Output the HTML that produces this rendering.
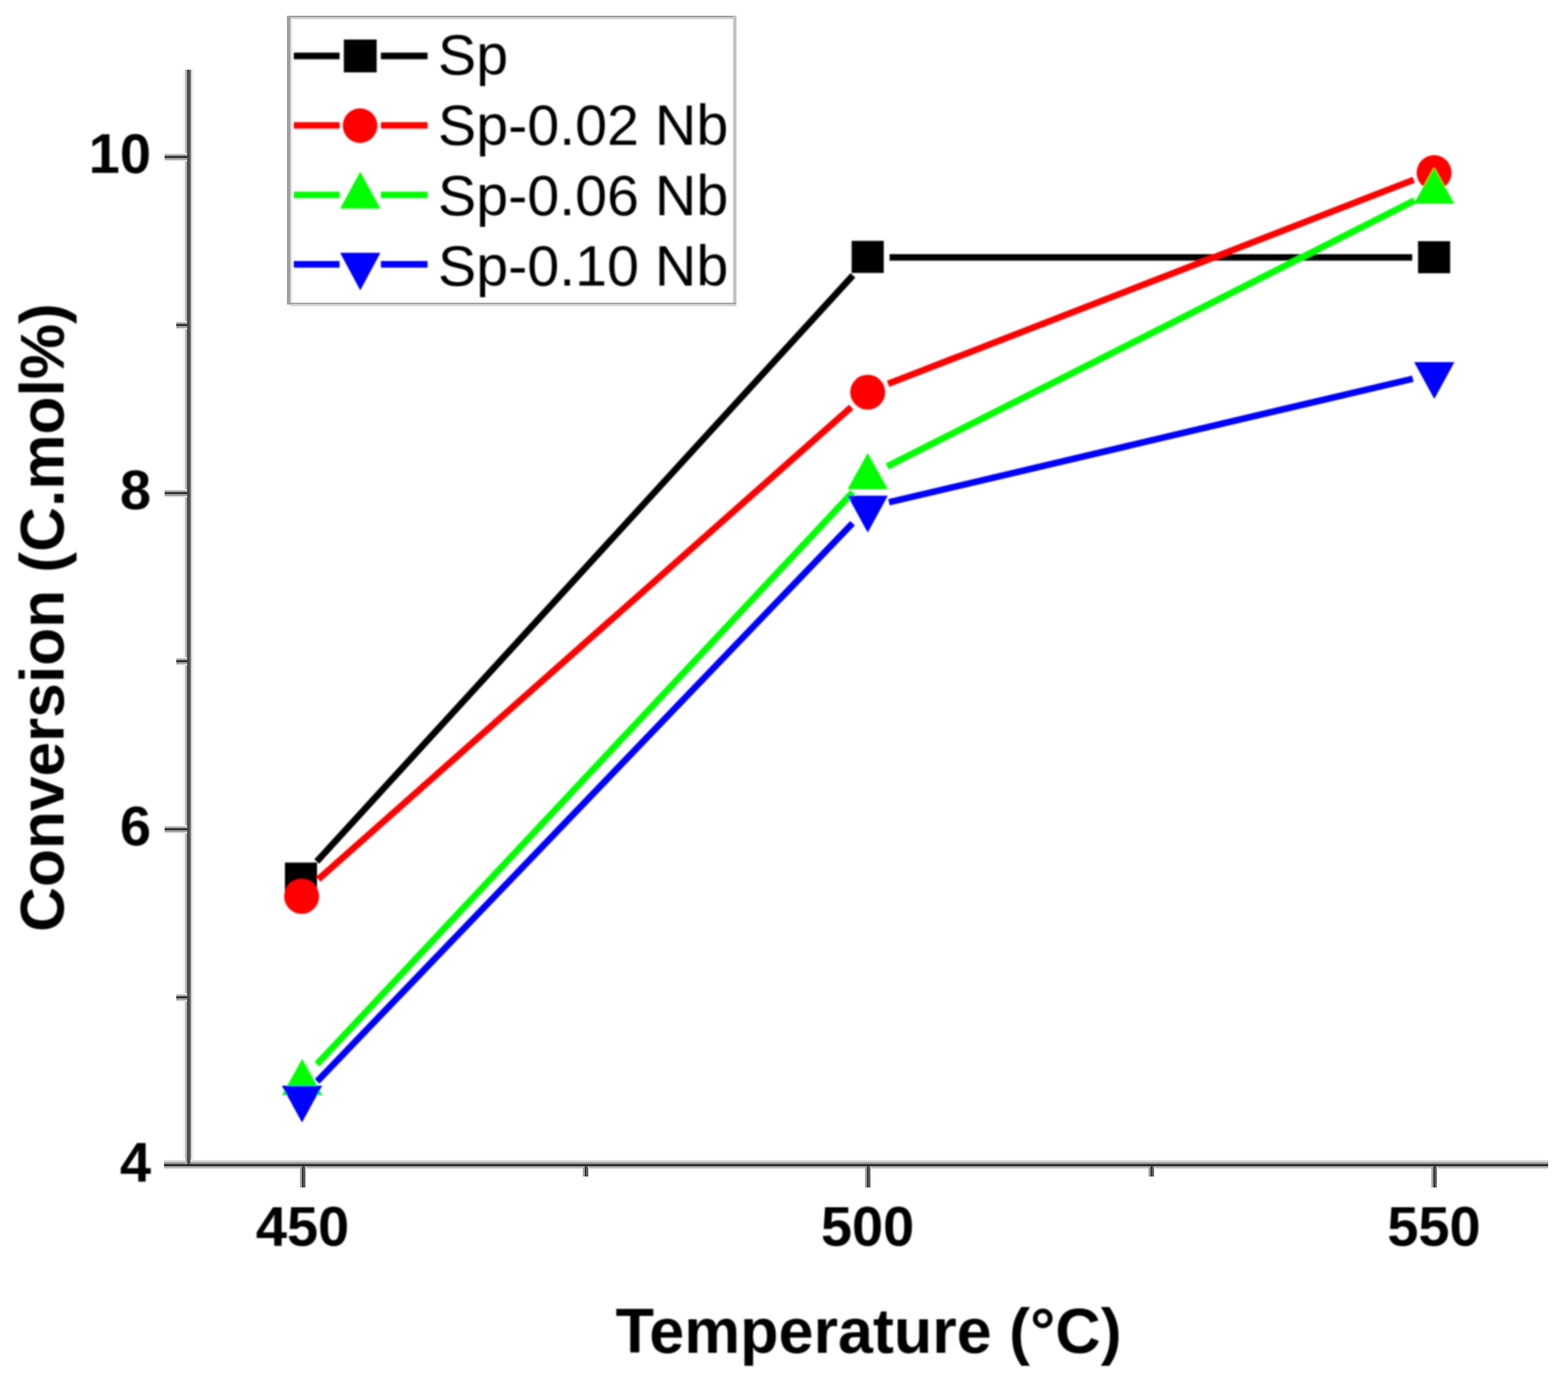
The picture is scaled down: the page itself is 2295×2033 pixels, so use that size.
<!DOCTYPE html>
<html><head><meta charset="utf-8"><title>Conversion vs Temperature</title>
<style>
html,body{margin:0;padding:0;background:#fff;overflow:hidden;}
svg{display:block;}
text{font-family:"Liberation Sans",Arial,sans-serif;fill:#000;}
.lg{font-size:84px;font-weight:normal;}
.tk{font-size:82px;font-weight:bold;}
.tt{font-size:92px;font-weight:bold;}
</style></head><body>
<svg width="2295" height="2033" viewBox="0 0 2295 2033">
<rect x="0" y="0" width="2295" height="2033" fill="#fff"/>
<defs><filter id="soft" x="-2%" y="-2%" width="104%" height="104%"><feGaussianBlur stdDeviation="0.8"/></filter></defs>
<rect x="240" y="1697" width="2026" height="1" fill="#fafafa"/>
<rect x="240" y="1698" width="2026" height="1" fill="#e0e0e0"/>
<rect x="240" y="1699" width="2026" height="1" fill="#d5d5d5"/>
<rect x="240" y="1700" width="2026" height="1" fill="#d5d5d5"/>
<rect x="240" y="1701" width="2026" height="1" fill="#a0a0a0"/>
<rect x="240" y="1702" width="2026" height="1" fill="#939393"/>
<rect x="240" y="1703" width="2026" height="1" fill="#8a8a8a"/>
<rect x="240" y="1704" width="2026" height="1" fill="#262626"/>
<rect x="240" y="1705" width="2026" height="1" fill="#2a2a2a"/>
<rect x="240" y="1706" width="2026" height="1" fill="#3a3a3a"/>
<rect x="240" y="1707" width="2026" height="1" fill="#b5b5b5"/>
<rect x="240" y="1708" width="2026" height="1" fill="#b0b0b0"/>
<rect x="240" y="1709" width="2026" height="1" fill="#c0c0c0"/>
<rect x="240" y="1710" width="2026" height="1" fill="#eeeeee"/>
<rect x="240" y="1711" width="2026" height="1" fill="#f4f4f4"/>
<rect x="268" y="102" width="1" height="1595" fill="#f5f5f5"/>
<rect x="269" y="102" width="1" height="1595" fill="#f3f3f3"/>
<rect x="270" y="102" width="1" height="1595" fill="#f0f0f0"/>
<rect x="271" y="102" width="1" height="1602" fill="#b5b5b5"/>
<rect x="272" y="102" width="1" height="1602" fill="#b2b2b2"/>
<rect x="273" y="102" width="1" height="1602" fill="#a8a8a8"/>
<rect x="274" y="102" width="1" height="1602" fill="#3d3d3d"/>
<rect x="275" y="102" width="1" height="1602" fill="#454545"/>
<rect x="276" y="102" width="1" height="1602" fill="#505050"/>
<rect x="277" y="102" width="1" height="1602" fill="#5a5a5a"/>
<rect x="278" y="102" width="1" height="1602" fill="#6a6a6a"/>
<rect x="279" y="102" width="1" height="1595" fill="#a0a0a0"/>
<rect x="280" y="102" width="1" height="1595" fill="#e5e5e5"/>
<rect x="281" y="102" width="1" height="1595" fill="#e8e8e8"/>
<rect x="282" y="102" width="1" height="1595" fill="#f2f2f2"/>
<rect x="241" y="224" width="33" height="1" fill="#eeeeee"/>
<rect x="241" y="225" width="33" height="1" fill="#e0e0e0"/>
<rect x="241" y="226" width="33" height="1" fill="#aaaaaa"/>
<rect x="241" y="227" width="33" height="1" fill="#a5a5a5"/>
<rect x="241" y="228" width="33" height="1" fill="#555555"/>
<rect x="241" y="229" width="33" height="1" fill="#2a2a2a"/>
<rect x="241" y="230" width="33" height="1" fill="#2a2a2a"/>
<rect x="241" y="231" width="33" height="1" fill="#999999"/>
<rect x="241" y="232" width="33" height="1" fill="#9a9a9a"/>
<rect x="241" y="233" width="33" height="1" fill="#aaaaaa"/>
<rect x="241" y="234" width="33" height="1" fill="#dddddd"/>
<rect x="241" y="235" width="33" height="1" fill="#e6e6e6"/>
<rect x="241" y="716" width="33" height="1" fill="#eeeeee"/>
<rect x="241" y="717" width="33" height="1" fill="#e0e0e0"/>
<rect x="241" y="718" width="33" height="1" fill="#aaaaaa"/>
<rect x="241" y="719" width="33" height="1" fill="#a5a5a5"/>
<rect x="241" y="720" width="33" height="1" fill="#555555"/>
<rect x="241" y="721" width="33" height="1" fill="#2a2a2a"/>
<rect x="241" y="722" width="33" height="1" fill="#2a2a2a"/>
<rect x="241" y="723" width="33" height="1" fill="#999999"/>
<rect x="241" y="724" width="33" height="1" fill="#9a9a9a"/>
<rect x="241" y="725" width="33" height="1" fill="#aaaaaa"/>
<rect x="241" y="726" width="33" height="1" fill="#dddddd"/>
<rect x="241" y="727" width="33" height="1" fill="#e6e6e6"/>
<rect x="241" y="1208" width="33" height="1" fill="#eeeeee"/>
<rect x="241" y="1209" width="33" height="1" fill="#e0e0e0"/>
<rect x="241" y="1210" width="33" height="1" fill="#aaaaaa"/>
<rect x="241" y="1211" width="33" height="1" fill="#a5a5a5"/>
<rect x="241" y="1212" width="33" height="1" fill="#555555"/>
<rect x="241" y="1213" width="33" height="1" fill="#2a2a2a"/>
<rect x="241" y="1214" width="33" height="1" fill="#2a2a2a"/>
<rect x="241" y="1215" width="33" height="1" fill="#999999"/>
<rect x="241" y="1216" width="33" height="1" fill="#9a9a9a"/>
<rect x="241" y="1217" width="33" height="1" fill="#aaaaaa"/>
<rect x="241" y="1218" width="33" height="1" fill="#dddddd"/>
<rect x="241" y="1219" width="33" height="1" fill="#e6e6e6"/>
<rect x="258" y="470" width="16" height="1" fill="#eeeeee"/>
<rect x="258" y="471" width="16" height="1" fill="#e0e0e0"/>
<rect x="258" y="472" width="16" height="1" fill="#aaaaaa"/>
<rect x="258" y="473" width="16" height="1" fill="#a5a5a5"/>
<rect x="258" y="474" width="16" height="1" fill="#555555"/>
<rect x="258" y="475" width="16" height="1" fill="#2a2a2a"/>
<rect x="258" y="476" width="16" height="1" fill="#2a2a2a"/>
<rect x="258" y="477" width="16" height="1" fill="#999999"/>
<rect x="258" y="478" width="16" height="1" fill="#9a9a9a"/>
<rect x="258" y="479" width="16" height="1" fill="#aaaaaa"/>
<rect x="258" y="480" width="16" height="1" fill="#dddddd"/>
<rect x="258" y="481" width="16" height="1" fill="#e6e6e6"/>
<rect x="258" y="962" width="16" height="1" fill="#eeeeee"/>
<rect x="258" y="963" width="16" height="1" fill="#e0e0e0"/>
<rect x="258" y="964" width="16" height="1" fill="#aaaaaa"/>
<rect x="258" y="965" width="16" height="1" fill="#a5a5a5"/>
<rect x="258" y="966" width="16" height="1" fill="#555555"/>
<rect x="258" y="967" width="16" height="1" fill="#2a2a2a"/>
<rect x="258" y="968" width="16" height="1" fill="#2a2a2a"/>
<rect x="258" y="969" width="16" height="1" fill="#999999"/>
<rect x="258" y="970" width="16" height="1" fill="#9a9a9a"/>
<rect x="258" y="971" width="16" height="1" fill="#aaaaaa"/>
<rect x="258" y="972" width="16" height="1" fill="#dddddd"/>
<rect x="258" y="973" width="16" height="1" fill="#e6e6e6"/>
<rect x="258" y="1454" width="16" height="1" fill="#eeeeee"/>
<rect x="258" y="1455" width="16" height="1" fill="#e0e0e0"/>
<rect x="258" y="1456" width="16" height="1" fill="#aaaaaa"/>
<rect x="258" y="1457" width="16" height="1" fill="#a5a5a5"/>
<rect x="258" y="1458" width="16" height="1" fill="#555555"/>
<rect x="258" y="1459" width="16" height="1" fill="#2a2a2a"/>
<rect x="258" y="1460" width="16" height="1" fill="#2a2a2a"/>
<rect x="258" y="1461" width="16" height="1" fill="#999999"/>
<rect x="258" y="1462" width="16" height="1" fill="#9a9a9a"/>
<rect x="258" y="1463" width="16" height="1" fill="#aaaaaa"/>
<rect x="258" y="1464" width="16" height="1" fill="#dddddd"/>
<rect x="258" y="1465" width="16" height="1" fill="#e6e6e6"/>
<rect x="439" y="1707" width="1" height="31" fill="#a3a3a3"/>
<rect x="440" y="1707" width="1" height="31" fill="#a3a3a3"/>
<rect x="441" y="1707" width="1" height="31" fill="#a3a3a3"/>
<rect x="442" y="1707" width="1" height="31" fill="#303030"/>
<rect x="443" y="1707" width="1" height="31" fill="#303030"/>
<rect x="444" y="1707" width="1" height="31" fill="#606060"/>
<rect x="445" y="1707" width="1" height="31" fill="#606060"/>
<rect x="446" y="1707" width="1" height="31" fill="#606060"/>
<rect x="447" y="1707" width="1" height="31" fill="#eeeeee"/>
<rect x="1266" y="1707" width="1" height="31" fill="#a3a3a3"/>
<rect x="1267" y="1707" width="1" height="31" fill="#a3a3a3"/>
<rect x="1268" y="1707" width="1" height="31" fill="#a3a3a3"/>
<rect x="1269" y="1707" width="1" height="31" fill="#303030"/>
<rect x="1270" y="1707" width="1" height="31" fill="#303030"/>
<rect x="1271" y="1707" width="1" height="31" fill="#606060"/>
<rect x="1272" y="1707" width="1" height="31" fill="#606060"/>
<rect x="1273" y="1707" width="1" height="31" fill="#606060"/>
<rect x="1274" y="1707" width="1" height="31" fill="#eeeeee"/>
<rect x="2095" y="1707" width="1" height="31" fill="#a3a3a3"/>
<rect x="2096" y="1707" width="1" height="31" fill="#a3a3a3"/>
<rect x="2097" y="1707" width="1" height="31" fill="#a3a3a3"/>
<rect x="2098" y="1707" width="1" height="31" fill="#303030"/>
<rect x="2099" y="1707" width="1" height="31" fill="#303030"/>
<rect x="2100" y="1707" width="1" height="31" fill="#606060"/>
<rect x="2101" y="1707" width="1" height="31" fill="#606060"/>
<rect x="2102" y="1707" width="1" height="31" fill="#606060"/>
<rect x="2103" y="1707" width="1" height="31" fill="#eeeeee"/>
<rect x="853" y="1707" width="1" height="15" fill="#a3a3a3"/>
<rect x="854" y="1707" width="1" height="15" fill="#a3a3a3"/>
<rect x="855" y="1707" width="1" height="15" fill="#a3a3a3"/>
<rect x="856" y="1707" width="1" height="15" fill="#303030"/>
<rect x="857" y="1707" width="1" height="15" fill="#303030"/>
<rect x="858" y="1707" width="1" height="15" fill="#606060"/>
<rect x="859" y="1707" width="1" height="15" fill="#606060"/>
<rect x="860" y="1707" width="1" height="15" fill="#606060"/>
<rect x="861" y="1707" width="1" height="15" fill="#eeeeee"/>
<rect x="1681" y="1707" width="1" height="15" fill="#a3a3a3"/>
<rect x="1682" y="1707" width="1" height="15" fill="#a3a3a3"/>
<rect x="1683" y="1707" width="1" height="15" fill="#a3a3a3"/>
<rect x="1684" y="1707" width="1" height="15" fill="#303030"/>
<rect x="1685" y="1707" width="1" height="15" fill="#303030"/>
<rect x="1686" y="1707" width="1" height="15" fill="#606060"/>
<rect x="1687" y="1707" width="1" height="15" fill="#606060"/>
<rect x="1688" y="1707" width="1" height="15" fill="#606060"/>
<rect x="1689" y="1707" width="1" height="15" fill="#eeeeee"/>
<rect x="420" y="23" width="658" height="2.5" fill="#999999"/>
<rect x="425" y="25.5" width="648" height="2.5" fill="#d0d0d0"/>
<rect x="420" y="443" width="658" height="2.6" fill="#a3a3a3"/>
<rect x="425" y="445.6" width="653" height="2.8" fill="#d6d6d6"/>
<rect x="420" y="23" width="5" height="422.6" fill="#a0a0a0"/>
<rect x="425" y="28" width="2.5" height="415" fill="#e0e0e0"/>
<rect x="1073" y="23" width="5" height="420" fill="#c4c4c4"/>
<g filter="url(#soft)">
<text x="221" y="252.5" class="tk" text-anchor="end">10</text>
<text x="221" y="744.7" class="tk" text-anchor="end">8</text>
<text x="221" y="1236.8" class="tk" text-anchor="end">6</text>
<text x="221" y="1728.7" class="tk" text-anchor="end">4</text>
<text x="442.8" y="1822.5" class="tk" text-anchor="middle">450</text>
<text x="1269.8" y="1822.5" class="tk" text-anchor="middle">500</text>
<text x="2098.8" y="1822.5" class="tk" text-anchor="middle">550</text>
<text class="tt" x="901" y="1980">Temperature (°C)</text>
<text class="tt" transform="translate(93,1364) rotate(-90)" x="0" y="0" style="font-size:91px">Conversion (C.mol%)</text>
<line x1="463.6" y1="1260.9" x2="1248.4" y2="403.1" stroke="#000000" stroke-width="9.6"/>
<line x1="1302.0" y1="376.8" x2="2067.0" y2="376.8" stroke="#000000" stroke-width="9.6"/>
<rect x="417.0" y="1262.5" width="47" height="47" fill="#000000"/>
<rect x="1246.5" y="352.5" width="47" height="47" fill="#000000"/>
<rect x="2075.5" y="353.0" width="47" height="47" fill="#000000"/>
<line x1="466.0" y1="1286.8" x2="1246.0" y2="595.8" stroke="#ff0000" stroke-width="9.6"/>
<line x1="1299.8" y1="561.8" x2="2069.2" y2="263.1" stroke="#ff0000" stroke-width="9.6"/>
<circle cx="441.5" cy="1312.0" r="25.6" fill="#ff0000"/>
<circle cx="1270.0" cy="574.0" r="25.6" fill="#ff0000"/>
<circle cx="2099.0" cy="252.7" r="25.6" fill="#ff0000"/>
<line x1="463.9" y1="1557.6" x2="1248.1" y2="720.4" stroke="#00ff00" stroke-width="9.6"/>
<line x1="1298.6" y1="682.6" x2="2070.4" y2="293.4" stroke="#00ff00" stroke-width="9.6"/>
<polygon points="442.3,1549.7 412.8,1602.7 471.8,1602.7" fill="#00ff00"/>
<polygon points="1270.0,663.0 1240.5,716.0 1299.5,716.0" fill="#00ff00"/>
<polygon points="2099.0,245.0 2069.5,298.0 2128.5,298.0" fill="#00ff00"/>
<line x1="464.1" y1="1582.9" x2="1247.9" y2="765.7" stroke="#0000ff" stroke-width="9.6"/>
<line x1="1301.1" y1="735.2" x2="2067.9" y2="554.3" stroke="#0000ff" stroke-width="9.6"/>
<polygon points="442.0,1643.0 412.5,1589.0 471.5,1589.0" fill="#0000ff"/>
<polygon points="1270.0,779.6 1240.5,725.6 1299.5,725.6" fill="#0000ff"/>
<polygon points="2099.3,583.9 2069.8,529.9 2128.8,529.9" fill="#0000ff"/>
<line x1="430" y1="81.9" x2="497" y2="81.9" stroke="#000000" stroke-width="9.6"/>
<line x1="557.5" y1="81.9" x2="625.8" y2="81.9" stroke="#000000" stroke-width="9.6"/>
<rect x="503.3" y="57.9" width="48" height="48" fill="#000000"/>
<text x="641" y="108.7" class="lg">Sp</text>
<line x1="430" y1="183.5" x2="497" y2="183.5" stroke="#ff0000" stroke-width="9.6"/>
<line x1="557.5" y1="183.5" x2="625.8" y2="183.5" stroke="#ff0000" stroke-width="9.6"/>
<circle cx="527" cy="183.9" r="25.3" fill="#ff0000"/>
<text x="641" y="211.6" class="lg">Sp-0.02 Nb</text>
<line x1="430" y1="285.2" x2="497" y2="285.2" stroke="#00ff00" stroke-width="9.6"/>
<line x1="557.5" y1="285.2" x2="625.8" y2="285.2" stroke="#00ff00" stroke-width="9.6"/>
<polygon points="527.3,251.2 497.8,305.2 556.8,305.2" fill="#00ff00"/>
<text x="641" y="314.8" class="lg">Sp-0.06 Nb</text>
<line x1="430" y1="386.9" x2="497" y2="386.9" stroke="#0000ff" stroke-width="9.6"/>
<line x1="557.5" y1="386.9" x2="625.8" y2="386.9" stroke="#0000ff" stroke-width="9.6"/>
<polygon points="527.3,424.9 497.8,369.9 556.8,369.9" fill="#0000ff"/>
<text x="641" y="417.6" class="lg">Sp-0.10 Nb</text>
</g>
</svg>
</body></html>
